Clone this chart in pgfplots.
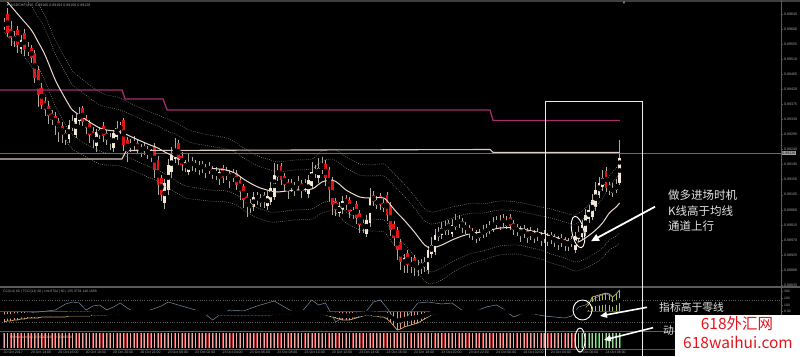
\documentclass[border=0pt]{standalone}
\usepackage{pgfplots}
\pgfplotsset{compat=1.18}
\usepackage{pgfplotstable}
\usepackage{fontspec}
\setmainfont{Liberation Sans}
\newfontfamily\cjk{Noto Sans CJK SC}
\usetikzlibrary{arrows.meta}

\definecolor{cred}{RGB}{226,20,20}
\definecolor{ccream}{RGB}{242,232,214}
\definecolor{cwick}{RGB}{175,170,160}
\definecolor{cma}{RGB}{236,218,208}
\definecolor{cband}{RGB}{140,140,128}
\definecolor{cmag}{RGB}{165,45,110}
\definecolor{chl}{RGB}{222,204,198}
\definecolor{cgrid}{RGB}{90,90,90}
\definecolor{clab}{RGB}{165,165,165}
\definecolor{chist}{RGB}{228,150,128}
\definecolor{chistg}{RGB}{175,190,80}
\definecolor{ctan}{RGB}{205,172,100}
\definecolor{ccci}{RGB}{120,140,160}
\definecolor{czero}{RGB}{165,28,28}
\definecolor{cmr}{RGB}{185,55,55}
\definecolor{cmrl}{RGB}{240,170,160}
\definecolor{cmg}{RGB}{55,120,55}
\definecolor{cmgl}{RGB}{160,220,160}
\definecolor{wmred}{RGB}{230,20,28}
\definecolor{ctext}{RGB}{228,228,228}

\pgfplotstableread{
i o c u d v m
0 27 22 4 3 322 1
1 14 33 6 4 321 1
2 29 38 8 8 321 1
3 41 36 5 6 320 1
4 30 45 4 8 320 1
5 49 40 5 5 319 1
6 33 50 4 6 319 1
7 47 52 5 4 318 1
8 48 58 3 5 318 1
9 53 78 3 5 318 1
10 70 95 4 12 318 1
11 88 105 5 4 317 1
12 101 110 4 6 317 1
13 106 116 5 8 317 1
14 113 120 3 5 317 1
15 116 125 4 10 317 1
16 121 130 3 12 317 1
17 126 135 4 8 317 1
18 138 133 3 7 317 1
19 139 125 5 4 316 1
20 123 128 8 3 316 1
21 135 118 4 3 316 1
22 121 114 7 4 316 1
23 108 122 2 4 316 1
24 118 128 3 6 316 1
25 123 135 3 8 316 1
26 131 140 4 8 315 1
27 146 132 3 6 315 1
28 135 130 3 4 315 1
29 126 136 4 6 315 1
30 133 140 3 5 315 1
31 137 142 4 8 314 1
32 148 133 3 4 314 1
33 137 128 7 3 314 1
34 125 130 3 4 314 1
35 120 145 2 6 314 1
36 140 152 3 10 313 1
37 143 148 4 4 313 1
38 141 146 5 4 313 1
39 143 150 3 4 313 1
40 147 152 3 5 313 1
41 146 151 3 4 313 1
42 149 154 3 5 313 1
43 151 156 2 6 313 1
44 146 170 3 8 313 1
45 160 185 4 10 313 1
46 178 195 3 6 313 1
47 203 183 4 6 313 1
48 190 165 6 5 313 1
49 172 155 8 6 313 1
50 159 150 12 4 313 1
51 143 160 3 5 313 1
52 156 165 4 6 313 1
53 163 168 3 4 313 1
54 172 163 10 3 313 1
55 161 166 4 5 313 1
56 163 168 3 4 313 1
57 165 170 4 5 313 1
58 164 169 3 4 313 1
59 167 172 3 6 314 1
60 166 171 4 3 314 1
61 169 174 3 5 314 1
62 171 176 4 4 314 1
63 179 172 3 6 315 1
64 168 178 3 5 315 1
65 171 176 4 4 315 1
66 173 180 3 8 315 1
67 173 178 4 4 315 1
68 173 185 3 5 315 1
69 180 192 3 8 315 1
70 186 200 2 8 315 1
71 196 205 3 12 315 1
72 208 203 4 5 315 1
73 207 197 5 4 315 1
74 195 200 3 5 315 1
75 203 198 4 4 315 1
76 195 202 3 6 315 1
77 206 196 5 4 315 1
78 202 188 6 3 315 1
79 197 175 12 3 314 1
80 177 172 8 4 314 1
81 166 180 3 5 314 1
82 176 185 3 6 314 1
83 182 189 3 10 314 1
84 183 188 4 4 314 1
85 185 190 3 6 313 1
86 181 186 5 4 313 1
87 183 190 3 8 313 1
88 183 188 4 4 313 1
89 194 180 5 4 313 1
90 186 172 10 3 312 1
91 169 174 4 4 312 1
92 178 168 10 5 313 1
93 165 170 8 4 314 1
94 164 178 4 8 315 1
95 170 190 3 12 316 1
96 180 205 3 10 317 1
97 201 210 3 6 318 1
98 213 206 4 4 319 1
99 210 201 5 4 320 1
100 198 205 3 5 320 1
101 200 212 3 6 320 1
102 215 210 3 4 319 1
103 204 218 3 6 318 1
104 213 225 3 8 317 1
105 223 228 3 5 316 1
106 234 220 5 3 315 1
107 223 198 10 4 315 1
108 195 202 4 4 316 1
109 205 200 4 4 316 1
110 196 205 3 5 317 1
111 208 203 4 4 317 1
112 195 215 3 6 319 1
113 205 230 3 6 322 1
114 224 238 3 8 326 1
115 230 250 3 10 330 1
116 242 262 3 8 329 1
117 265 258 4 8 327 1
118 253 265 3 8 326 1
119 267 262 5 6 325 1
120 258 268 3 8 324 1
121 270 265 5 6 323 1
122 268 263 4 6 321 1
123 267 262 5 5 319 1
124 270 250 4 4 317 1
125 254 245 8 4 315 1
126 252 235 6 3 314 1
127 237 232 5 4 314 1
128 235 228 6 4 313 1
129 231 226 5 4 313 1
130 223 230 3 5 313 1
131 234 225 6 3 313 1
132 227 222 8 3 313 1
133 219 224 4 4 313 1
134 221 228 3 5 313 1
135 225 230 3 4 313 1
136 228 233 3 5 313 1
137 231 236 3 4 313 1
138 239 234 4 4 312 1
139 238 233 4 3 312 1
140 235 230 5 3 312 1
141 233 228 4 4 312 1
142 231 226 5 3 312 1
143 229 224 7 3 312 1
144 220 225 4 4 312 1
145 227 222 7 3 312 1
146 218 223 4 4 312 1
147 226 221 5 3 312 1
148 217 226 3 4 312 1
149 223 230 3 5 313 1
150 227 232 3 4 313 1
151 229 236 3 6 313 1
152 229 234 4 4 313 1
153 231 238 3 5 313 1
154 231 236 4 4 313 1
155 233 238 3 5 313 1
156 232 237 4 4 313 1
157 235 240 3 6 313 1
158 234 239 4 4 313 1
159 236 241 3 5 313 1
160 235 240 3 4 313 1
161 237 242 3 5 313 1
162 239 244 3 6 313 1
163 238 243 4 4 313 1
164 240 245 3 6 313 1
165 241 246 3 5 313 1
166 239 244 3 3 313 1
167 250 236 4 3 312 1
168 239 232 6 3 312 1
169 237 225 5 3 311 1
170 232 215 6 4 308 1
171 219 210 5 4 304 1
172 217 200 6 3 297 1
173 207 190 8 4 296 1
174 195 183 6 3 295 1
175 187 178 8 4 294 1
176 171 188 4 4 293 1
177 185 190 3 5 294 1
178 193 188 5 4 297 1
179 190 185 6 3 294 1
180 183 158 18 2 290 1
}\candles

\pgfplotstableread{
i ma w1 w2
0 -2 22 34
3 10 22 34
5 18 23 35
8 30 24 36
10 42 25 38
12 55 26 39
15 80 26 40
17 93 26 40
19 105 26 40
20 110 25 39
22 115 25 38
25 122 24 37
28 128 23 36
30 130 23 35
34 132 22 34
38 138 22 33
42 144 22 33
45 148 22 33
47 152 22 34
50 157 23 35
53 163 23 35
55 165 22 34
60 168 22 33
65 170 21 32
68 174 21 31
70 179 21 31
73 185 21 31
75 188 21 31
78 191 21 31
80 192 20 30
85 190 20 30
90 189 20 30
93 182 21 31
96 180 21 31
98 184 21 32
100 190 22 33
104 197 22 33
107 198 22 33
111 198 22 34
113 205 23 35
115 213 24 36
117 220 24 36
120 232 24 36
123 245 24 36
125 248 24 36
128 245 23 35
131 240 22 33
134 236 21 31
137 233 20 30
140 232 19 28
145 228 18 27
150 228 17 26
153 230 17 26
157 233 17 26
160 236 18 27
164 240 18 27
167 243 19 28
170 238 21 30
173 230 23 33
175 223 25 35
177 213 27 37
179 207 29 39
180 203 30 40
}\mavals

\pgfplotsset{
  panel/.style={scale only axis, width=781pt, xmin=-1.1696, xmax=227.193,
    anchor=south west, axis line style={draw=none}, clip=true,
    tick style={draw=cgrid, thin}, tick align=outside, major tick length=2pt},
  band/.style={cband, line width=0.5pt, dash pattern=on 0.8pt off 1.3pt, smooth},
}

\begin{document}
\begin{tikzpicture}
\useasboundingbox (0,0) rectangle (800pt,356pt);
\fill[black] (0,0) rectangle (800pt,356pt);

% ---------- main price panel ----------
\begin{axis}[panel, at={(0pt,70pt)}, height=284pt, ymin=2, ymax=286, y dir=reverse,
  xtick=\empty, ytick pos=right, yticklabel pos=right,
  ytick={14,29.06,44.12,59.18,74.24,89.30,104.36,119.42,134.48,149.54,164.6,179.66,194.72,209.78,224.84,239.9,254.96,270.02,285.08},
  yticklabels={0.89645,0.89600,0.89555,0.89510,0.89465,0.89420,0.89375,0.89330,0.89285,0.89240,0.89195,0.89150,0.89105,0.89060,0.89015,0.88970,0.88925,0.88880,0.88835},
  yticklabel style={font=\fontsize{3.6}{4}\selectfont, text=clab, inner sep=1pt}]
% wicks
\addplot[only marks, mark=none, forget plot,
  error bars/.cd, y dir=both, y explicit, error mark=none,
  error bar style={line width=0.6pt, draw=cwick}]
  table[x=i, y expr={(min(\thisrow{o},\thisrow{c})-\thisrow{u}+max(\thisrow{o},\thisrow{c})+\thisrow{d})/2},
        y error expr={(abs(\thisrow{c}-\thisrow{o})+\thisrow{u}+\thisrow{d})/2}] {\candles};
% bearish bodies (close below open); zero-length bar otherwise
\addplot[only marks, mark=none, forget plot,
  error bars/.cd, y dir=both, y explicit, error mark=none,
  error bar style={line width=2.8pt, draw=cred}]
  table[x=i, y expr={(\thisrow{o}+\thisrow{c})/2},
        y error expr={(\thisrow{c}>\thisrow{o}) ? (abs(\thisrow{c}-\thisrow{o})/2) : 0}] {\candles};
% bullish bodies
\addplot[only marks, mark=none, forget plot,
  error bars/.cd, y dir=both, y explicit, error mark=none,
  error bar style={line width=2.8pt, draw=ccream}]
  table[x=i, y expr={(\thisrow{o}+\thisrow{c})/2},
        y error expr={(\thisrow{c}<\thisrow{o}) ? (abs(\thisrow{c}-\thisrow{o})/2) : 0}] {\candles};
% channel bands
\addplot[band] table[x=i, y expr=\thisrow{ma}-\thisrow{w2}] {\mavals};
\addplot[band] table[x=i, y expr=\thisrow{ma}-\thisrow{w1}] {\mavals};
\addplot[band] table[x=i, y expr=\thisrow{ma}+\thisrow{w1}] {\mavals};
\addplot[band] table[x=i, y expr=\thisrow{ma}+\thisrow{w2}] {\mavals};
% level lines
\addplot[cmag, line width=1.3pt] coordinates {(-1.2,90) (34.5,90) (35.4,99) (46.5,99) (47.7,110) (142.1,110) (143,120.5) (180.1,120.5)};
\addplot[cgrid!90!white, line width=0.6pt] coordinates {(-1.2,153.3) (227.2,153.3)};
\addplot[chl, line width=1.1pt] coordinates {(-1.2,159) (34.5,159) (35.8,150.5) (142.1,149.5) (143,152.3) (180.1,152.3)};
% moving average
\addplot[cma, line width=1pt, smooth] table[x=i, y=ma] {\mavals};
\end{axis}

% ---------- indicator panel 1 ----------
\begin{axis}[panel, at={(0pt,25pt)}, height=43pt, ymin=288, ymax=331, y dir=reverse,
  xtick=\empty, ytick pos=right, yticklabel pos=right,
  ytick={291,298,305,311.5,318,325}, yticklabels={300,200,100,0.00,-100,-200},
  yticklabel style={font=\fontsize{3.4}{4}\selectfont, text=clab, inner sep=1pt}]
\draw[cgrid, dash pattern=on 0.8pt off 1.5pt, line width=0.4pt] (axis cs:-2,300) -- (axis cs:228,300);
\draw[cgrid, dash pattern=on 0.8pt off 1.5pt, line width=0.4pt] (axis cs:-2,322) -- (axis cs:228,322);
\addplot[only marks, mark=none, forget plot,
  error bars/.cd, y dir=both, y explicit, error mark=none,
  error bar style={line width=0.9pt, draw=chist}]
  table[x=i, y expr={(311.5+\thisrow{v})/2}, y error expr={(\thisrow{i}<169.5) ? (abs(\thisrow{v}-311.5)/2) : 0}] {\candles};
\addplot[only marks, mark=none, forget plot,
  error bars/.cd, y dir=both, y explicit, error mark=none,
  error bar style={line width=0.9pt, draw=chistg}]
  table[x=i, y expr={(311.5+\thisrow{v})/2}, y error expr={(\thisrow{i}>169.5) ? (abs(\thisrow{v}-311.5)/2) : 0}] {\candles};
\draw[czero, line width=1.8pt] (axis cs:-2,311.5) -- (axis cs:181,311.5);
\addplot[ctan, line width=0.7pt] table[x=i, y=v] {\candles};
\addplot[ccci, line width=0.5pt] coordinates {
(0,318) (5,314) (10,312) (15,310) (18,304) (20,302) (22,303) (24,310) (26,306) (28,305)
(30,310) (32,307) (34,303) (36,308) (38,312) (42,311) (46,306) (48,302) (50,304) (54,308)
(58,312) (61,320) (63,315) (66,310) (70,311) (74,306) (77,303) (79,301) (81,305) (84,311)
(87,312) (90,300) (92,305) (94,303) (96,316) (97,322) (100,315) (103,318) (106,311) (108,302)
(110,300) (112,308) (114,318) (116,324) (118,316) (121,303) (124,302) (128,304) (131,303) (135,313)
(138,311) (141,307) (144,305) (146,309) (149,317) (152,313) (155,314) (158,316) (161,317) (164,318)
(166,316) (168,307) (170,305) (172,300) (174,296) (176,294) (178,297) (180,290)};
\end{axis}

% ---------- indicator panel 2 ----------
\begin{axis}[panel, at={(0pt,7pt)}, height=17pt, ymin=-0.06, ymax=1.06,
  ytick=\empty, xtick pos=bottom,
  xtick={0,8,16,24,32,40,48,56,64,72,80,88,96,104,112,120,128,136,144,152,160,168,176},
  xticklabels={20 Oct 2017,20 Oct 14:00,20 Oct 16:00,20 Oct 18:00,20 Oct 20:00,20 Oct 22:00,23 Oct 00:00,23 Oct 02:00,23 Oct 04:00,23 Oct 06:00,23 Oct 08:00,23 Oct 10:00,23 Oct 12:00,23 Oct 14:00,23 Oct 16:00,23 Oct 18:00,23 Oct 20:00,23 Oct 22:00,24 Oct 00:00,24 Oct 02:00,24 Oct 04:00,24 Oct 06:00,24 Oct 08:00},
  xticklabel style={font=\fontsize{3.5}{4}\selectfont, text=clab, anchor=north west, inner sep=0.5pt, xshift=-1pt},
  major tick length=1.2pt]
\addplot[ycomb, mark=none, cmr, line width=1.8pt, restrict x to domain=-1:167.5] table[x=i, y=m] {\candles};
\addplot[ycomb, mark=none, cmrl, line width=0.6pt, restrict x to domain=-1:167.5] table[x=i, y=m] {\candles};
\addplot[ycomb, mark=none, cmg, line width=1.8pt, restrict x to domain=167.5:181] table[x=i, y=m] {\candles};
\addplot[ycomb, mark=none, cmgl, line width=0.6pt, restrict x to domain=167.5:181] table[x=i, y=m] {\candles};
\end{axis}

% ---------- frame, annotations (pixel coordinates) ----------
\begin{scope}[x=1pt, y=-1pt, shift={(0pt,356pt)}]
\fill[cgrid!70!black] (0,0) rectangle (800,1.6);
\fill[cgrid] (0,285.6) rectangle (800,287.6);
\fill[cgrid] (0,330.6) rectangle (800,332);
\draw[cgrid, line width=0.5pt] (0,349) -- (781,349);
\draw[cgrid, line width=0.8pt] (781.4,0) -- (781.4,349);
\node[anchor=west, inner sep=0pt, font=\fontsize{3.6}{4}\selectfont, text=clab] at (6,5.5) {▼ USDCHF,M15\ \ 0.89160 0.89164 0.89108 0.89128};
\node[inner sep=0pt, font=\fontsize{4}{4}\selectfont, text=clab] at (624,3.5) {▼};
\node[anchor=west, inner sep=0pt, font=\fontsize{3.4}{4}\selectfont, text=clab] at (3,291.5) {CCI(14) 60 | TCCI(14) 60 | cmt 8704 | 60 | 155.3754 146.1688};
\node[anchor=west, inner sep=0pt, font=\fontsize{3.4}{4}\selectfont, text=cmrl] at (10,337.5) {Momentum(14)\ \ 0.00000000\ \ 0.00000000};
\node[fill=clab, text=black, inner sep=0.6pt, anchor=west, font=\fontsize{3.6}{4}\selectfont] at (781.6,153.3) {0.89226};
% highlight box
\draw[white!92!black, line width=1.3pt] (545.5,356) -- (545.5,101.5) -- (642.5,101.5) -- (642.5,356);
% main annotation
\draw[white, line width=0.9pt, rotate around={12:(578,232)}] (578,232) ellipse [x radius=6pt, y radius=16pt];
\draw[white, line width=1.8pt, -{Triangle[length=8pt,width=7pt]}] (655,206.7) -- (591,241.2);
\node[anchor=west, align=left, text=ctext, inner sep=0pt, font=\cjk\fontsize{11.5}{15.5}\selectfont] at (668,211) {做多进场时机\\K线高于均线\\通道上行};
% indicator annotations
\draw[white, line width=0.9pt] (582.5,310) ellipse [x radius=9.5pt, y radius=10pt];
\draw[white, line width=1.6pt, -{Triangle[length=7pt,width=6pt]}] (647,307.3) -- (600,316);
\node[anchor=west, text=ctext, inner sep=0pt, font=\cjk\fontsize{10.8}{12}\selectfont] at (659,307) {指标高于零线};
\draw[white, line width=0.9pt] (580,340) ellipse [x radius=5pt, y radius=12pt];
\draw[white, line width=1.6pt, -{Triangle[length=7pt,width=6pt]}] (653,327.7) -- (604,340);
\node[anchor=west, text=ctext, inner sep=0pt, font=\cjk\fontsize{10.8}{12}\selectfont] at (663,330) {动};
% watermark
\fill[white] (675,315) rectangle (800,356);
\node[text=wmred, inner sep=0pt, font=\cjk\fontsize{15.5}{16}\selectfont] at (737,323.5) {618外汇网};
\node[text=wmred, inner sep=0pt, font=\cjk\fontsize{15.5}{16}\selectfont] at (738,342.5) {618waihui.com};
\end{scope}
\end{tikzpicture}
\end{document}
